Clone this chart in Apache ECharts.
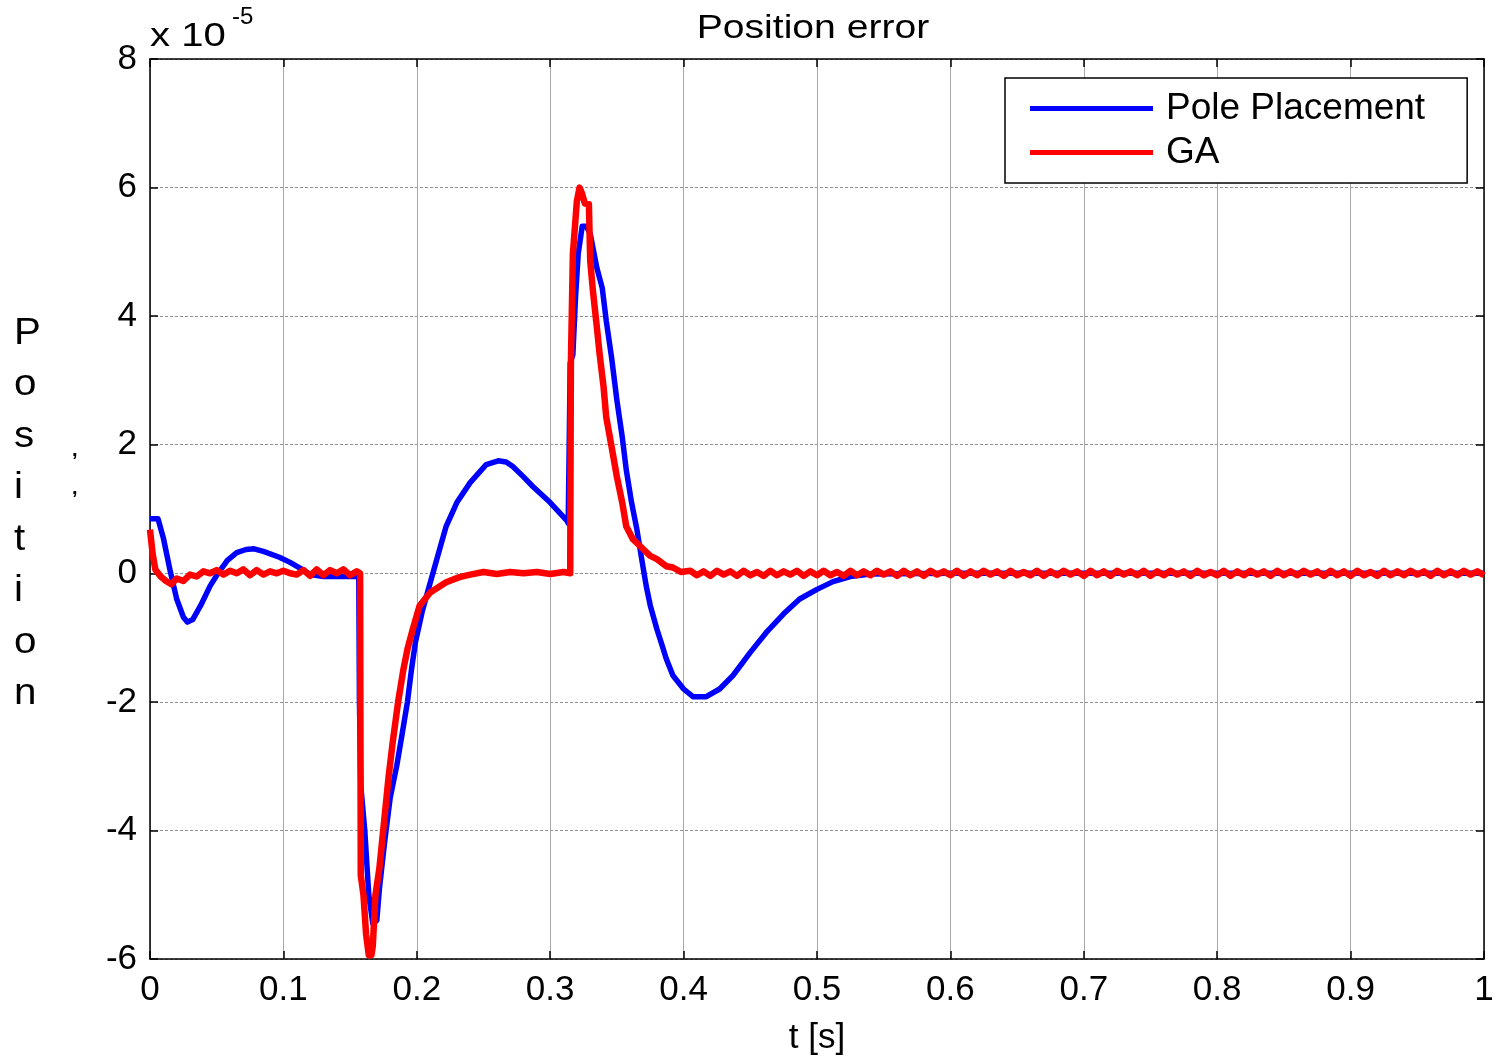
<!DOCTYPE html>
<html>
<head>
<meta charset="utf-8">
<script src="https://cdn.jsdelivr.net/npm/echarts@6/dist/echarts.min.js"></script>
<style>html,body{margin:0;padding:0;background:#fff}#c{width:1499px;height:1061px}</style>
</head>
<body>
<div id="c"></div>
<script>
// Values in units of 1e-5
var xTickLabels = ['0','0.1','0.2','0.3','0.4','0.5','0.6','0.7','0.8','0.9','1'];
var seriesNames = ['Pole Placement', 'GA'];

var ppT = [0,0.006,0.010,0.015,0.020,0.025,0.028,0.032,0.038,0.045,0.051,0.058,0.065,0.072,0.078,0.085,0.097,0.105,0.115,0.120,0.130,0.1565,
  0.157,0.158,0.161,0.164,0.167,0.170,0.172,0.176,0.180,0.185,0.189,0.193,0.196,0.199,0.204,0.208,0.215,0.222,0.230,0.240,0.252,0.261,0.267,0.272,0.280,0.287,0.300,0.3125,0.3135,
  0.315,0.317,0.319,0.321,0.324,0.327,0.330,0.335,0.339,0.342,0.346,0.350,0.354,0.357,0.361,0.365,0.369,0.372,0.375,0.380,0.384,0.387,0.392,0.400,0.407,0.417,0.427,0.437,0.450,0.462,0.475,0.487,0.500,0.512,0.525,0.540,0.600,1.0];
var ppV = [0.85,0.85,0.55,0.05,-0.40,-0.68,-0.76,-0.72,-0.50,-0.20,0.00,0.20,0.32,0.37,0.38,0.34,0.25,0.17,0.05,-0.02,-0.05,-0.05,
  -2.0,-3.3,-4.0,-5.0,-5.45,-5.4,-4.9,-4.16,-3.5,-2.99,-2.5,-2.0,-1.5,-1.07,-0.6,-0.3,0.22,0.73,1.1,1.41,1.69,1.75,1.73,1.66,1.5,1.35,1.1,0.82,0.78,
  3.27,3.4,4.3,4.97,5.4,5.4,5.28,4.75,4.44,3.93,3.36,2.69,2.12,1.61,1.1,0.68,0.17,-0.2,-0.5,-0.87,-1.13,-1.33,-1.59,-1.8,-1.92,-1.92,-1.8,-1.59,-1.23,-0.92,-0.63,-0.4,-0.25,-0.13,-0.05,-0.01,0,0];

var gaT = [0,0.002,0.004,0.008,0.012,0.016,0.020,0.025,0.030,0.035,0.040,0.045,0.050,0.055,0.060,0.065,0.070,0.075,0.080,0.085,0.090,0.095,0.100,0.105,0.110,0.115,0.120,0.125,0.130,0.135,0.140,0.145,0.150,0.155,0.1575,
  0.158,0.160,0.162,0.164,0.166,0.167,0.169,0.172,0.175,0.179,0.182,0.186,0.190,0.193,0.197,0.202,0.210,0.222,0.232,0.240,0.250,0.260,0.270,0.280,0.290,0.300,0.310,0.315,
  0.3155,0.317,0.320,0.322,0.324,0.326,0.329,0.330,0.332,0.335,0.337,0.340,0.342,0.346,0.350,0.354,0.357,0.362,0.370,0.375,0.380,0.387,0.392,0.398,
  0.405,0.410,0.415,0.420,0.425,0.430,0.435,0.440,0.445,0.450,0.455,0.460,0.465,0.470,0.475,0.480,0.485,0.490,0.495,0.500,
  0.505,0.510,0.515,0.520,0.525,0.530,0.535,0.540,0.545,0.550,0.555,0.560,0.565,0.570,0.575,0.580,0.585,0.590,0.595,0.600,
  0.605,0.610,0.615,0.620,0.625,0.630,0.635,0.640,0.645,0.650,0.655,0.660,0.665,0.670,0.675,0.680,0.685,0.690,0.695,0.700,
  0.705,0.710,0.715,0.720,0.725,0.730,0.735,0.740,0.745,0.750,0.755,0.760,0.765,0.770,0.775,0.780,0.785,0.790,0.795,0.800,
  0.805,0.810,0.815,0.820,0.825,0.830,0.835,0.840,0.845,0.850,0.855,0.860,0.865,0.870,0.875,0.880,0.885,0.890,0.895,0.900,
  0.905,0.910,0.915,0.920,0.925,0.930,0.935,0.940,0.945,0.950,0.955,0.960,0.965,0.970,0.975,0.980,0.985,0.990,0.995,1.000];
var gaV = [0.68,0.30,0.06,-0.05,-0.12,-0.17,-0.08,-0.12,-0.02,-0.05,0.03,0.00,0.05,-0.02,0.04,0.00,0.06,-0.03,0.05,-0.02,0.03,0.00,0.04,0.00,-0.02,0.05,-0.04,0.06,-0.03,0.05,0.00,0.06,-0.03,0.03,0.00,
  -4.7,-5.0,-5.62,-5.94,-5.94,-5.8,-5.0,-4.58,-3.96,-3.14,-2.62,-2.0,-1.49,-1.18,-0.87,-0.51,-0.3,-0.14,-0.06,-0.02,0.02,-0.01,0.02,0.00,0.02,-0.01,0.02,0.00,
  3.27,4.97,5.79,6.0,5.9,5.75,5.74,4.86,4.4,3.82,3.42,2.9,2.43,1.97,1.5,1.1,0.73,0.53,0.37,0.27,0.22,0.11,0.09,0.02,
  0.04,-0.03,0.03,-0.04,0.04,-0.02,0.03,-0.04,0.04,-0.03,0.02,-0.04,0.04,-0.03,0.03,-0.02,0.04,-0.04,0.03,-0.03,
  0.04,-0.03,0.02,-0.04,0.04,-0.03,0.03,-0.03,0.04,-0.02,0.03,-0.04,0.04,-0.03,0.03,-0.04,0.04,-0.02,0.03,-0.03,
  0.04,-0.04,0.03,-0.03,0.04,-0.02,0.03,-0.04,0.04,-0.03,0.02,-0.03,0.04,-0.04,0.03,-0.03,0.04,-0.02,0.03,-0.04,
  0.04,-0.03,0.03,-0.04,0.04,-0.02,0.03,-0.03,0.04,-0.04,0.03,-0.03,0.04,-0.02,0.03,-0.04,0.04,-0.03,0.02,-0.03,
  0.04,-0.04,0.03,-0.03,0.04,-0.02,0.03,-0.04,0.04,-0.03,0.03,-0.03,0.04,-0.02,0.03,-0.04,0.04,-0.03,0.03,-0.04,
  0.04,-0.03,0.02,-0.04,0.04,-0.03,0.03,-0.03,0.04,-0.02,0.03,-0.04,0.04,-0.03,0.03,-0.03,0.04,-0.02,0.03,-0.03];

function zip(t, v) { return t.map(function (x, i) { return [x, v[i]]; }); }

var FONT = 'Liberation Sans, Arial, sans-serif';
var chart = echarts.init(document.getElementById('c'), null, {renderer: 'canvas'});

var gridLineX = {show: true, lineStyle: {color: '#a8a8a8', width: 1, type: 'solid'}};
var gridLineY = {show: true, lineStyle: {color: '#909090', width: 1, type: [3, 2]}};
var axLine = {show: true, onZero: false, lineStyle: {color: '#000', width: 1.5}};
var axTick = {show: true, inside: true, length: 8, lineStyle: {color: '#000', width: 1.5}};

chart.setOption({
  animation: false,
  backgroundColor: '#fff',
  grid: {left: 150, right: 15, top: 59, bottom: 98, containLabel: false},
  legend: {
    orient: 'vertical', left: 1005, top: 78,
    padding: [12, 42, 12, 25], itemGap: 7,
    itemWidth: 123, itemHeight: 5, icon: 'rect',
    backgroundColor: '#fff', borderColor: '#000', borderWidth: 1.5,
    textStyle: {fontFamily: FONT, fontSize: 37, color: '#000', padding: [0, 0, 0, 8], lineHeight: 36},
    data: seriesNames
  },
  xAxis: [{
    type: 'value', min: 0, max: 1, interval: 0.1, position: 'bottom',
    name: 't [s]', nameLocation: 'middle', nameGap: 62,
    nameTextStyle: {fontFamily: FONT, fontSize: 35, color: '#000'},
    axisLine: axLine, axisTick: axTick,
    axisLabel: {fontFamily: FONT, fontSize: 35, color: '#000', margin: 14,
      formatter: function (v) { return xTickLabels[Math.round(v * 10)]; }},
    splitLine: gridLineX
  }, {
    type: 'value', min: 0, max: 1, interval: 0.1, position: 'top',
    axisLine: axLine, axisTick: axTick,
    axisLabel: {show: false}, splitLine: {show: false}
  }],
  yAxis: [{
    type: 'value', min: -6, max: 8, interval: 2, position: 'left',
    axisLine: axLine, axisTick: axTick,
    axisLabel: {fontFamily: FONT, fontSize: 35, color: '#000', margin: 13},
    splitLine: gridLineY
  }, {
    type: 'value', min: -6, max: 8, interval: 2, position: 'right',
    axisLine: axLine, axisTick: axTick,
    axisLabel: {show: false}, splitLine: {show: false}
  }],
  graphic: [
    {type: 'text', x: 813, y: 29, scaleX: 1.15, style: {text: 'Position error', font: '34px ' + FONT, fill: '#000', align: 'center', verticalAlign: 'middle'}},
    {type: 'text', x: 150, y: 37, scaleX: 1.18, style: {text: 'x 10', font: '34px ' + FONT, fill: '#000', verticalAlign: 'middle'}},
    {type: 'text', x: 232, y: 17, style: {text: '-5', font: '24px ' + FONT, fill: '#000', verticalAlign: 'middle'}},
    {type: 'text', x: 14, y: 308, scaleX: 1.12, style: {text: 'P\no\ns\ni\nt\ni\no\nn', font: '36px ' + FONT, fill: '#000', lineHeight: 51.5, align: 'left'}},
    {type: 'text', x: 72, y: 440, style: {text: ',', font: 'bold 20px ' + FONT, fill: '#000'}},
    {type: 'text', x: 72, y: 478, style: {text: ',', font: 'bold 20px ' + FONT, fill: '#000'}}
  ],
  series: [{
    name: seriesNames[0], type: 'line', data: zip(ppT, ppV),
    xAxisIndex: 0, yAxisIndex: 0,
    showSymbol: false, symbol: 'none', z: 3,
    itemStyle: {color: '#0000ff'},
    lineStyle: {color: '#0000ff', width: 5.5, join: 'round'}
  }, {
    name: seriesNames[1], type: 'line', data: zip(gaT, gaV),
    xAxisIndex: 0, yAxisIndex: 0,
    showSymbol: false, symbol: 'none', z: 4,
    itemStyle: {color: '#ff0000'},
    lineStyle: {color: '#ff0000', width: 6.5, join: 'round'}
  }]
});
</script>
</body>
</html>
